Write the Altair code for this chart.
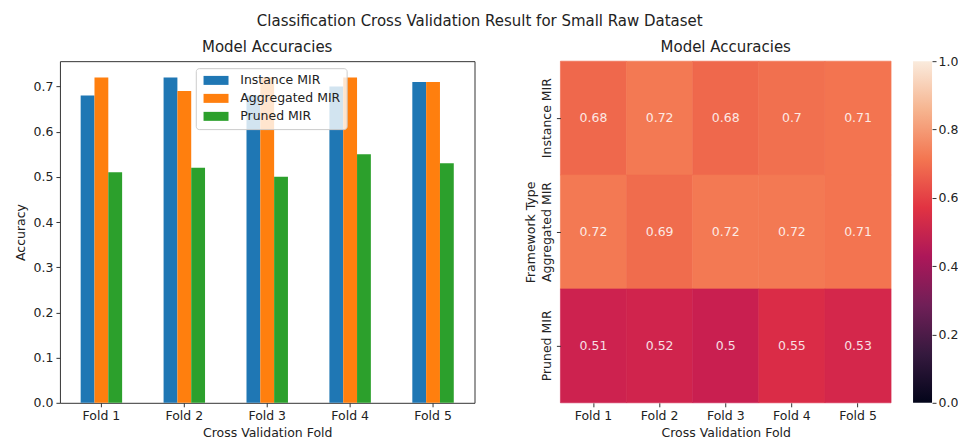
import altair as alt
import pandas as pd

# Cross-validation accuracies per fold and framework
folds = ["Fold 1", "Fold 2", "Fold 3", "Fold 4", "Fold 5"]
frameworks = ["Instance MIR", "Aggregated MIR", "Pruned MIR"]
instance_mir = [0.68, 0.72, 0.68, 0.70, 0.71]
aggregated_mir = [0.72, 0.69, 0.72, 0.72, 0.71]
pruned_mir = [0.51, 0.52, 0.50, 0.55, 0.53]

bar_colors = ["#1f77b4", "#ff7f0e", "#2ca02c"]

# "rocket" colormap samples (value, colour)
rocket_stops = [0.0, 1 / 7, 2 / 7, 3 / 7, 4 / 7, 5 / 7, 6 / 7, 1.0]
rocket_colors = ["#03051a", "#35193e", "#701f57", "#ad1759",
                 "#e13342", "#f37651", "#f6b48f", "#faebdd"]
colorbar_ticks = [0.0, 0.2, 0.4, 0.6, 0.8, 1.0]

FONT = "DejaVu Sans"
TEXT = "#222222"
LABEL_SIZE = 12.5
TITLE_SIZE = 15

rows = []
for name, vals in zip(frameworks, [instance_mir, aggregated_mir, pruned_mir]):
    for fold, v in zip(folds, vals):
        rows.append({"Fold": fold, "Framework": name, "Accuracy": v})
df = pd.DataFrame(rows)

sub_title = alt.TitleParams("Model Accuracies", fontSize=TITLE_SIZE, font=FONT,
                            fontWeight="normal", color=TEXT, offset=6)

# Wide rectangular legend swatch (25 x 9 px at symbolSize 100)
swatch = "M-2.5,-0.9L2.5,-0.9L2.5,0.9L-2.5,0.9Z"

# Left: grouped bars
bars = alt.Chart(df, title=sub_title).mark_bar().encode(
    x=alt.X("Fold:N", sort=folds,
            scale=alt.Scale(paddingInner=0.5, paddingOuter=0.25),
            axis=alt.Axis(title="Cross Validation Fold", labelAngle=0,
                          domain=False, tickSize=4, labelPadding=3,
                          titlePadding=4)),
    xOffset=alt.XOffset("Framework:N", sort=frameworks,
                        scale=alt.Scale(paddingInner=0, paddingOuter=0)),
    y=alt.Y("Accuracy:Q", scale=alt.Scale(domain=[0, 0.756], nice=False),
            axis=alt.Axis(title="Accuracy", values=[0, 0.1, 0.2, 0.3, 0.4, 0.5, 0.6, 0.7],
                          format=".1f", domain=False, tickSize=4, labelPadding=3,
                          titlePadding=6)),
    color=alt.Color("Framework:N", sort=frameworks,
                    scale=alt.Scale(domain=frameworks, range=bar_colors),
                    legend=alt.Legend(
                        title=None, orient="none", legendX=136, legendY=7,
                        symbolType=swatch, symbolSize=100, symbolOffset=8,
                        symbolStrokeWidth=0, symbolOpacity=1,
                        labelFontSize=LABEL_SIZE, labelFont=FONT, labelColor=TEXT,
                        rowPadding=5, padding=6, labelOffset=18,
                        fillColor="rgba(255,255,255,0.8)", strokeColor="#cccccc",
                        cornerRadius=3)),
).properties(width=415, height=342,
             view=alt.ViewBackground(stroke="#333333", strokeWidth=1))

# Middle: heatmap with annotations
heat_base = alt.Chart(df, title=sub_title).encode(
    x=alt.X("Fold:N", sort=folds, scale=alt.Scale(paddingInner=0, paddingOuter=0),
            axis=alt.Axis(title="Cross Validation Fold", labelAngle=0, domain=False,
                          tickSize=4, labelPadding=3, titlePadding=4)),
    y=alt.Y("Framework:N", sort=frameworks, scale=alt.Scale(paddingInner=0, paddingOuter=0),
            axis=alt.Axis(title="Framework Type", labelAngle=270, labelAlign="center",
                          labelBaseline="bottom", domain=False, tickSize=4,
                          labelPadding=3, titlePadding=3)),
)
cells = heat_base.mark_rect(strokeWidth=0.6).encode(
    color=alt.Color("Accuracy:Q",
                    scale=alt.Scale(domain=rocket_stops, range=rocket_colors),
                    legend=None),
    stroke=alt.Stroke("Accuracy:Q",
                      scale=alt.Scale(domain=rocket_stops, range=rocket_colors),
                      legend=None),
)
labels = heat_base.mark_text(color="#ffffff", opacity=0.85, fontSize=LABEL_SIZE,
                             font=FONT).encode(
    text=alt.Text("Accuracy:Q", format=".2~f")
)
heatmap = alt.layer(cells, labels).properties(
    width=331, height=342, view=alt.ViewBackground(strokeOpacity=0))

# Right: colorbar drawn as a gradient-filled rect on its own axis
cbar_df = pd.DataFrame({"lo": [colorbar_ticks[0]], "hi": [colorbar_ticks[-1]]})
gradient = alt.Gradient(
    gradient="linear", x1=0, y1=1, x2=0, y2=0,
    stops=[alt.GradientStop(offset=o, color=c) for o, c in zip(rocket_stops, rocket_colors)],
)
colorbar = alt.Chart(
    cbar_df, title=alt.TitleParams(" ", fontSize=TITLE_SIZE, font=FONT, offset=6)
).mark_rect(fill=gradient).encode(
    y=alt.Y("lo:Q", scale=alt.Scale(domain=[0, 1], nice=False),
            axis=alt.Axis(orient="right", title=None, values=colorbar_ticks, format=".1f",
                          domain=False, tickSize=4, labelPadding=2)),
    y2="hi:Q",
).properties(width=19, height=342, view=alt.ViewBackground(strokeOpacity=0))

right = alt.hconcat(heatmap, colorbar, spacing=21)

chart = alt.hconcat(bars, right, spacing=48).properties(
    title=alt.TitleParams(
        "Classification Cross Validation Result for Small Raw Dataset",
        fontSize=TITLE_SIZE, font=FONT, fontWeight="normal", color=TEXT,
        anchor="middle", offset=5, dx=-6),
    padding={"left": 13, "top": 14, "right": 0, "bottom": 0},
).configure_axis(
    labelFont=FONT, titleFont=FONT, labelFontSize=LABEL_SIZE, titleFontSize=LABEL_SIZE,
    labelColor=TEXT, titleColor=TEXT, tickColor="#333333", grid=False,
    titleFontWeight="normal",
).configure_title(font=FONT).configure_view(stroke="#333333")

chart.save("out.html", embed_options={"renderer": "svg", "actions": False})
